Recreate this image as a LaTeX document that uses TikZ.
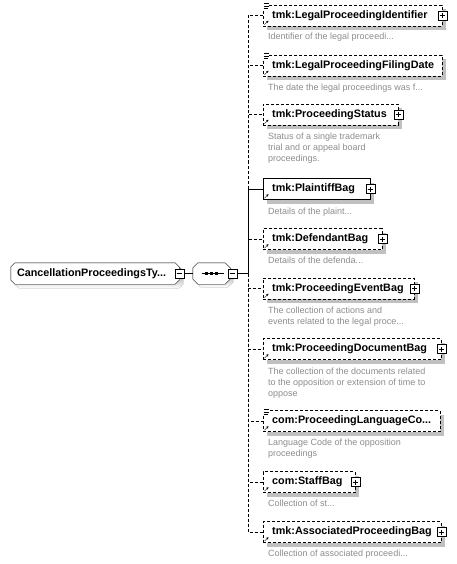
\documentclass[tikz,border=0pt]{standalone}
\usepackage{fontspec}
\setmainfont{Liberation Sans}
\usetikzlibrary{shadows, arrows.meta, backgrounds}

\definecolor{shade}{RGB}{192,192,192}
\definecolor{doctext}{RGB}{140,140,140}

%% small marks in the corners of the element boxes
\newcommand{\refmark}[1]{%
  \draw[solid, -{Stealth[length=2.5pt,width=2.5pt]}]
    ([shift={(1.5pt,1.5pt)}]#1.south west) -- ++(4pt,4pt);}
\newcommand{\listmark}[1]{%
  \fill[white] ([shift={(-0.5pt,2pt)}]#1.north west) rectangle ++(6.5pt,-7pt);
  \draw[solid, line width=0.6pt]
    ([shift={(0.5pt,1pt)}]#1.north west) -- ++(5pt,0pt)
    ([shift={(0.5pt,-1.5pt)}]#1.north west) -- ++(5pt,0pt)
    ([shift={(0.5pt,-4pt)}]#1.north west) -- ++(4pt,0pt);}
%% octagon round a node: node, cut, offset
\newcommand{\octpath}[3]{%
  ([shift={(#3+#2,-#3)}]#1.north west) -- ([shift={(#3-#2,-#3)}]#1.north east)
  -- ([shift={(#3,-#3-#2)}]#1.north east) -- ([shift={(#3,-#3+#2)}]#1.south east)
  -- ([shift={(#3-#2,-#3)}]#1.south east) -- ([shift={(#3+#2,-#3)}]#1.south west)
  -- ([shift={(#3,-#3+#2)}]#1.south west) -- ([shift={(#3,-#3-#2)}]#1.north west) -- cycle}

\begin{document}
\begin{tikzpicture}[x=1pt, y=-1pt,
  elem/.style={rectangle, draw, dash pattern=on 3pt off 2pt, fill=white,
               anchor=west, minimum height=21pt, inner xsep=9pt, inner ysep=0pt,
               text width=#1, font=\bfseries\fontsize{10.8}{12}\selectfont,
               drop shadow={shadow xshift=4pt, shadow yshift=-4pt, fill=shade, opacity=1}},
  must/.style={solid},
  doc/.style={anchor=north west, inner sep=0pt, align=left, text=doctext,
              font=\fontsize{9}{11}\selectfont},
  expand/.style={draw, solid, fill=white, minimum size=9pt, inner sep=0pt,
                 path picture={\draw
                   ([yshift=-2pt]path picture bounding box.north) -- ([yshift=2pt]path picture bounding box.south)
                   ([xshift=2pt]path picture bounding box.west) -- ([xshift=-2pt]path picture bounding box.east);}},
  collapse/.style={draw, solid, fill=white, minimum size=9pt, inner sep=0pt,
                 path picture={\draw
                   ([xshift=2pt]path picture bounding box.west) -- ([xshift=-2pt]path picture bounding box.east);}},
  octa/.style={rectangle, minimum height=21pt, inner ysep=0pt},
  link/.style={dash pattern=on 3pt off 2pt}
]
\useasboundingbox (0,0) rectangle (456,564);

%% Complex type and sequence
\node[octa, minimum width=168pt, inner xsep=6pt, text width=156pt,
      font=\bfseries\fontsize{10.8}{12}\selectfont] at (95,273.5) (root) {CancellationProceedingsTy...};
\node[octa, minimum width=37pt] at (211.5,273.5) (seq) {};
\begin{scope}[on background layer]
  \fill[shade] \octpath{root}{4pt}{4pt};
  \draw[fill=white] \octpath{root}{4pt}{0pt};
  \fill[shade] \octpath{seq}{5pt}{3pt};
  \draw[fill=white] \octpath{seq}{5pt}{0pt};
\end{scope}
\node[collapse] at (root.east) (rootx) {};
\node[collapse] at ([xshift=2pt]seq.east) (seqx) {};
\draw ([xshift=-10pt]seq.center) -- ([xshift=12pt]seq.center);
\foreach \dx in {-5,0,5}
  \fill ([shift={(\dx pt,0pt)}]seq.center) +(-1.5pt,-1.5pt) rectangle +(1.5pt,1.5pt);
\coordinate (bus) at (248,273.5);

%% Child elements
\node[elem=161pt] at (263,15.5)  (lpi)  {tmk:LegalProceedingIdentifier};
\node[elem=161pt] at (263,65.5)  (lpfd) {tmk:LegalProceedingFilingDate};
\node[elem=117pt] at (263,114.5) (pst)  {tmk:ProceedingStatus};
\node[elem=89pt, must] at (263,189) (plf) {tmk:PlaintiffBag};
\node[elem=101pt] at (263,239)   (dfd)  {tmk:DefendantBag};
\node[elem=133pt] at (263,288.5) (peb)  {tmk:ProceedingEventBag};
\node[elem=160pt] at (263,349)   (pdb)  {tmk:ProceedingDocumentBag};
\node[elem=159pt] at (263,421)   (plc)  {com:ProceedingLanguageCo...};
\node[elem=74pt]  at (263,482)   (stf)  {com:StaffBag};
\node[elem=160pt] at (263,532)   (apb)  {tmk:AssociatedProceedingBag};

%% Expand buttons
\foreach \n in {lpi,pst,plf,dfd,peb,pdb,stf,apb}
  \node[expand] at (\n.east) (\n x) {};

%% Corner marks
\foreach \n in {lpi,lpfd,pst,plf,dfd,peb,pdb,plc,stf,apb}
  {\refmark{\n}}
\foreach \n in {lpi,lpfd,plc}
  {\listmark{\n}}

%% Documentation
\node[doc] at (268,33)  (lpitxt)  {Identifier of the legal proceedi...};
\node[doc] at (268,84)  (lpfdtxt) {The date the legal proceedings was f...};
\node[doc] at (268,133) (psttxt)  {Status of a single trademark\\trial and or appeal board\\proceedings.};
\node[doc] at (268,208) (plftxt)  {Details of the plaint...};
\node[doc] at (268,257) (dfdtxt)  {Details of the defenda...};
\node[doc] at (268,307) (pebtxt)  {The collection of actions and\\events related to the legal proce...};
\node[doc] at (268,368) (pdbtxt)  {The collection of the documents related\\to the opposition or extension of time to\\oppose};
\node[doc] at (268,439) (plctxt)  {Language Code of the opposition\\proceedings};
\node[doc] at (268,500) (stftxt)  {Collection of st...};
\node[doc] at (268,550) (apbtxt)  {Collection of associated proceedi...};

%% Connectors
\draw (rootx) -- (seq);
\draw (seqx) -- (bus);
\foreach \n in {lpi,lpfd,pst,dfd,peb,pdb,plc,stf,apb}
  \draw[link] (bus) |- (\n.west);
\draw (bus) |- (plf.west);
\end{tikzpicture}
\end{document}
